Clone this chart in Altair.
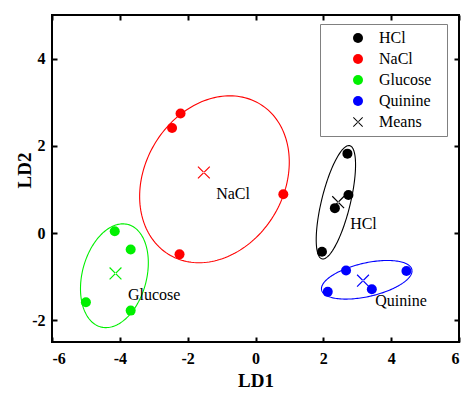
import altair as alt
import numpy as np
import pandas as pd

# Discriminant scores (LD1, LD2) for each taste class
groups = ["HCl", "NaCl", "Glucose", "Quinine"]
hcl_x = [2.71, 2.74, 2.34, 1.96]
hcl_y = [1.82, 0.87, 0.57, -0.43]
nacl_x = [-2.21, -2.46, 0.82, -2.24]
nacl_y = [2.74, 2.41, 0.89, -0.49]
glucose_x = [-4.15, -3.68, -5.00, -3.68]
glucose_y = [0.04, -0.38, -1.59, -1.78]
quinine_x = [2.67, 4.45, 2.13, 3.43]
quinine_y = [-0.86, -0.87, -1.35, -1.29]

# Ellipse outlines: centre, half extents along LD1/LD2, and tilt (correlation)
ell_cx = [2.37, -1.21, -4.16, 3.28]
ell_cy = [0.705, 1.232, -0.98, -1.073]
ell_rx = [0.58, 2.206, 1.00, 1.335]
ell_ry = [1.30, 1.914, 1.19, 0.443]
ell_rho = [0.66, 0.206, 0.25, 0.46]

# Class labels placed next to each cluster
label_text = ["NaCl", "HCl", "Quinine", "Glucose"]
label_x = [-1.16, 2.79, 3.53, -3.76]
label_y = [0.89, 0.20, -1.57, -1.42]

legend_keys = groups + ["Means"]
colors = ["#000000", "#ff0000", "#00f000", "#0000ff", "#000000"]
X_PATH = ("M-1,-0.87L-0.87,-1L1,0.87L0.87,1Z "
          "M-1,0.87L-0.87,1L1,-0.87L0.87,-1Z")
FONT = "Liberation Serif"

xs_all = [hcl_x, nacl_x, glucose_x, quinine_x]
ys_all = [hcl_y, nacl_y, glucose_y, quinine_y]
pts = pd.DataFrame({
    "group": [g for g, xs in zip(groups, xs_all) for _ in xs],
    "x": [v for xs in xs_all for v in xs],
    "y": [v for ys in ys_all for v in ys],
})

labels = pd.DataFrame({"text": label_text, "x": label_x, "y": label_y})

xscale = alt.Scale(domain=[-6, 6], nice=False, zero=False)
yscale = alt.Scale(domain=[-2.5, 5], nice=False, zero=False)
color_scale = alt.Scale(domain=legend_keys, range=colors)
shape_scale = alt.Scale(domain=legend_keys, range=["circle"] * 4 + [X_PATH])

x_ticks = [-6, -4, -2, 0, 2, 4, 6]
y_ticks = [-2, 0, 2, 4]
tick_label = "'' + datum.value"

x_axis = alt.Axis(values=x_ticks, title="LD1", labelPadding=8, titlePadding=5,
                  labelExpr=tick_label, labelFont=FONT, titleFont=FONT)
y_axis = alt.Axis(values=y_ticks, title="LD2", labelPadding=7,
                  titleX=-23, titleY=155, labelExpr=tick_label,
                  labelFont=FONT, titleFont=FONT)
top_axis = alt.Axis(orient="top", values=x_ticks, labels=False, title=None)
right_axis = alt.Axis(orient="right", values=y_ticks, labels=False, title=None)

# Blank side title just widens the legend box on its right
legend = alt.Legend(title="\u00a0", titleOrient="right", titlePadding=10,
                    titleFontSize=8, orient="none", legendX=268, legendY=9)

# One outline layer per class, each in its class colour
ellipse_layers = []
t = np.linspace(0, 2 * np.pi, 181)
for i, (g, cx, cy, rx, ry, rho) in enumerate(
        zip(groups, ell_cx, ell_cy, ell_rx, ell_ry, ell_rho)):
    ex = cx + rx * np.cos(t)
    ey = cy + ry * (rho * np.cos(t) + np.sqrt(1 - rho ** 2) * np.sin(t))
    df = pd.DataFrame({"x": ex, "y": ey, "k": np.arange(len(t))})
    first = i == 0
    ellipse_layers.append(
        alt.Chart(df).mark_line(strokeWidth=1.1, color=colors[i]).encode(
            x=alt.X("x:Q", scale=xscale, axis=top_axis if first else None),
            y=alt.Y("y:Q", scale=yscale, axis=right_axis if first else None),
            order="k:Q",
        )
    )

points = alt.Chart(pts).mark_point(filled=True, opacity=1, size=100).encode(
    x=alt.X("x:Q", scale=xscale, axis=x_axis),
    y=alt.Y("y:Q", scale=yscale, axis=y_axis),
    color=alt.Color("group:N", scale=color_scale, legend=legend),
    shape=alt.Shape("group:N", scale=shape_scale, legend=legend),
)

means = alt.Chart(pts).transform_aggregate(
    mx="mean(x)", my="mean(y)", groupby=["group"]
).mark_point(filled=True, opacity=1, size=160, shape=X_PATH).encode(
    x=alt.X("mx:Q", scale=xscale, axis=None),
    y=alt.Y("my:Q", scale=yscale, axis=None),
    color=alt.Color("group:N", scale=color_scale, legend=legend),
)

texts = alt.Chart(labels).mark_text(
    align="left", baseline="middle", font=FONT, fontSize=16, color="black"
).encode(
    x=alt.X("x:Q", scale=xscale, axis=None),
    y=alt.Y("y:Q", scale=yscale, axis=None),
    text="text:N",
)

chart = alt.layer(*ellipse_layers, points, means, texts).resolve_axis(
    x="independent", y="independent"
).properties(
    width=407, height=327, autosize="none",
    padding={"left": 52, "top": 15, "right": 3, "bottom": 52},
    background="white",
).configure_view(
    stroke="black", strokeWidth=2
).configure_axis(
    labelFont=FONT, labelFontSize=16, labelFontWeight="bold",
    labelColor="black", titleFont=FONT, titleFontSize=19,
    titleFontWeight="bold", titleColor="black", tickColor="black",
    tickWidth=2, tickSize=5, offset=-5, domain=False, grid=False,
).configure_legend(
    strokeColor="#808080", fillColor="white", padding=6,
    labelFont=FONT, labelFontSize=16, labelColor="black",
    symbolSize=100, rowPadding=5, labelOffset=13, symbolOffset=24,
    symbolStrokeWidth=0,
)

chart.save("out.html", embed_options={"renderer": "svg", "actions": False})
